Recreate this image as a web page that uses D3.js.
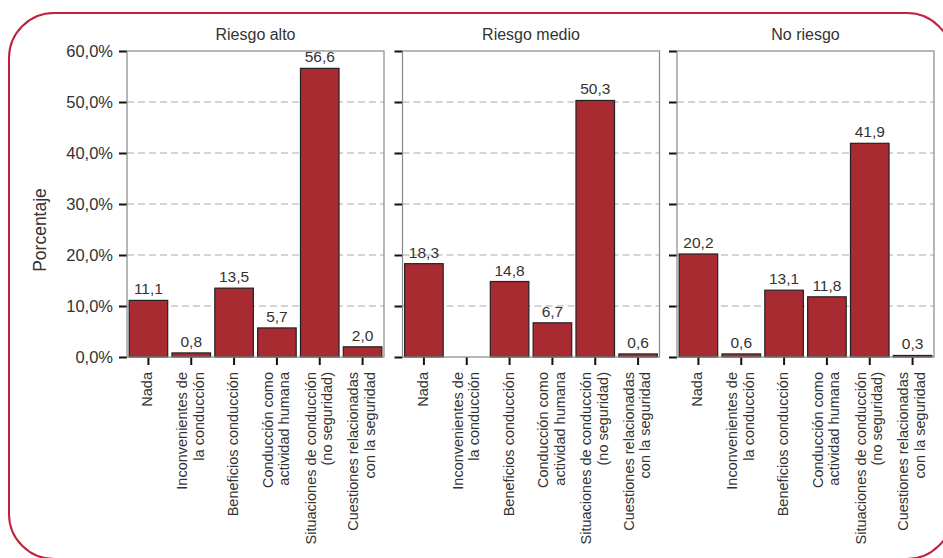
<!DOCTYPE html>
<meta charset="utf-8">
<head>
	<script src="https://d3js.org/d3.v7.min.js"></script>
	<style>
		body {
			margin: 0;
			background: #fff;
			font-family: "Liberation Sans", Arial, sans-serif;
		}
		.axis path {
			display: none;
		}
		.axis line {
			stroke: #111;
			stroke-width: 2;
		}
		.axis text {
			font-size: 16.5px;
			fill: #333;
		}
		.grid line {
			stroke: #aaa;
			stroke-dasharray: 7,4;
		}
		.bar {
			fill: #a82b32;
			stroke: #222;
			stroke-width: 1.2;
		}
	</style>
</head>

<body>
	<div id="chart"></div>
</body>

<script type="text/javascript">
	var panels = ["Riesgo alto", "Riesgo medio", "No riesgo"];

	var categories = [
		["Nada"],
		["Inconvenientes de", "la conducción"],
		["Beneficios conducción"],
		["Conducción como", "actividad humana"],
		["Situaciones de conducción", "(no seguridad)"],
		["Cuestiones relacionadas", "con la seguridad"]
	];

	var riesgoAlto  = [11.1, 0.8, 13.5, 5.7, 56.6, 2.0];
	var riesgoMedio = [18.3, null, 14.8, 6.7, 50.3, 0.6];
	var noRiesgo    = [20.2, 0.6, 13.1, 11.8, 41.9, 0.3];

	var yTicks = [0, 10, 20, 30, 40, 50, 60];

	var series = [riesgoAlto, riesgoMedio, noRiesgo];

	var W = 943, H = 558;
	var top_ = 51, bottom = 357;
	var panelLeft = [127, 402.5, 677],
		panelWidth = 257;

	var svg = d3.select("#chart").append("svg")
		.attr("width", W)
		.attr("height", H);

	// red rounded frame
	svg.append("rect")
		.attr("x", 9)
		.attr("y", 13)
		.attr("width", 943)
		.attr("height", 546)
		.attr("rx", 45)
		.attr("ry", 45)
		.style("fill", "none")
		.style("stroke", "#c0213c")
		.style("stroke-width", 2);

	var yScale = d3.scaleLinear()
		.domain([0, 60])
		.range([bottom, top_]);

	var fmt = function(v) { return d3.format(".1f")(v).replace(".", ","); };

	svg.append("text")
		.attr("transform", "translate(46,230)rotate(-90)")
		.style("text-anchor", "middle")
		.style("font-size", "17.5px")
		.style("fill", "#333")
		.text("Porcentaje");

	panels.forEach(function(name, p) {
		var x0 = panelLeft[p];
		var g = svg.append("g")
			.attr("transform", "translate(" + x0 + ",0)");

		var xScale = d3.scaleBand()
			.domain(d3.range(categories.length))
			.range([0, panelWidth])
			.paddingInner(0.1)
			.paddingOuter(0.05);

		// gridlines
		g.append("g")
			.attr("class", "grid")
			.selectAll("line")
			.data(yTicks.filter(function(t) { return t > 0 && t < 60; }))
			.enter().append("line")
			.attr("x1", 0)
			.attr("x2", panelWidth)
			.attr("y1", function(d) { return yScale(d); })
			.attr("y2", function(d) { return yScale(d); });

		// y axis
		var yAxis = d3.axisLeft(yScale)
			.tickValues(yTicks)
			.tickSize(8)
			.tickPadding(6)
			.tickFormat(function(d) { return p == 0 ? fmt(d) + "%" : ""; });
		g.append("g")
			.attr("class", "axis")
			.call(yAxis);

		// x axis ticks
		var xAxis = d3.axisBottom(xScale)
			.tickSize(8)
			.tickFormat("");
		var xg = g.append("g")
			.attr("class", "axis")
			.attr("transform", "translate(0," + bottom + ")")
			.call(xAxis);

		// x labels, rotated
		xg.selectAll(".tick").each(function(d) {
			var lines = categories[d];
			var t = d3.select(this).append("text")
				.attr("transform", "translate(-1,15)rotate(-90)")
				.style("text-anchor", "end")
				.style("font-size", "14.5px")
				.style("fill", "#333");
			lines.forEach(function(l, i) {
				t.append("tspan")
					.attr("x", 0)
					.attr("y", (i - (lines.length - 1) / 2) * 16.5)
					.attr("dy", "0.35em")
					.text(l);
			});
		});

		// bars
		var data = series[p].map(function(v, i) { return {i: i, value: v}; })
			.filter(function(d) { return d.value != null; });

		g.selectAll(".bar")
			.data(data)
			.enter().append("rect")
			.attr("class", "bar")
			.attr("x", function(d) { return xScale(d.i); })
			.attr("width", xScale.bandwidth())
			.attr("y", function(d) { return yScale(d.value); })
			.attr("height", function(d) { return bottom - yScale(d.value); });

		g.selectAll(".val")
			.data(data)
			.enter().append("text")
			.attr("class", "val")
			.attr("x", function(d) { return xScale(d.i) + xScale.bandwidth() / 2; })
			.attr("y", function(d) { return yScale(d.value) - 6; })
			.style("text-anchor", "middle")
			.style("font-size", "15.5px")
			.style("fill", "#333")
			.text(function(d) { return fmt(d.value); });

		// panel border
		g.append("rect")
			.attr("width", panelWidth)
			.attr("y", top_)
			.attr("height", bottom - top_)
			.style("fill", "none")
			.style("stroke", "#888")
			.style("stroke-width", 1.2);

		// panel title
		g.append("text")
			.attr("x", panelWidth / 2)
			.attr("y", 40)
			.style("text-anchor", "middle")
			.style("font-size", "16px")
			.style("fill", "#333")
			.text(name);
	});
</script>
